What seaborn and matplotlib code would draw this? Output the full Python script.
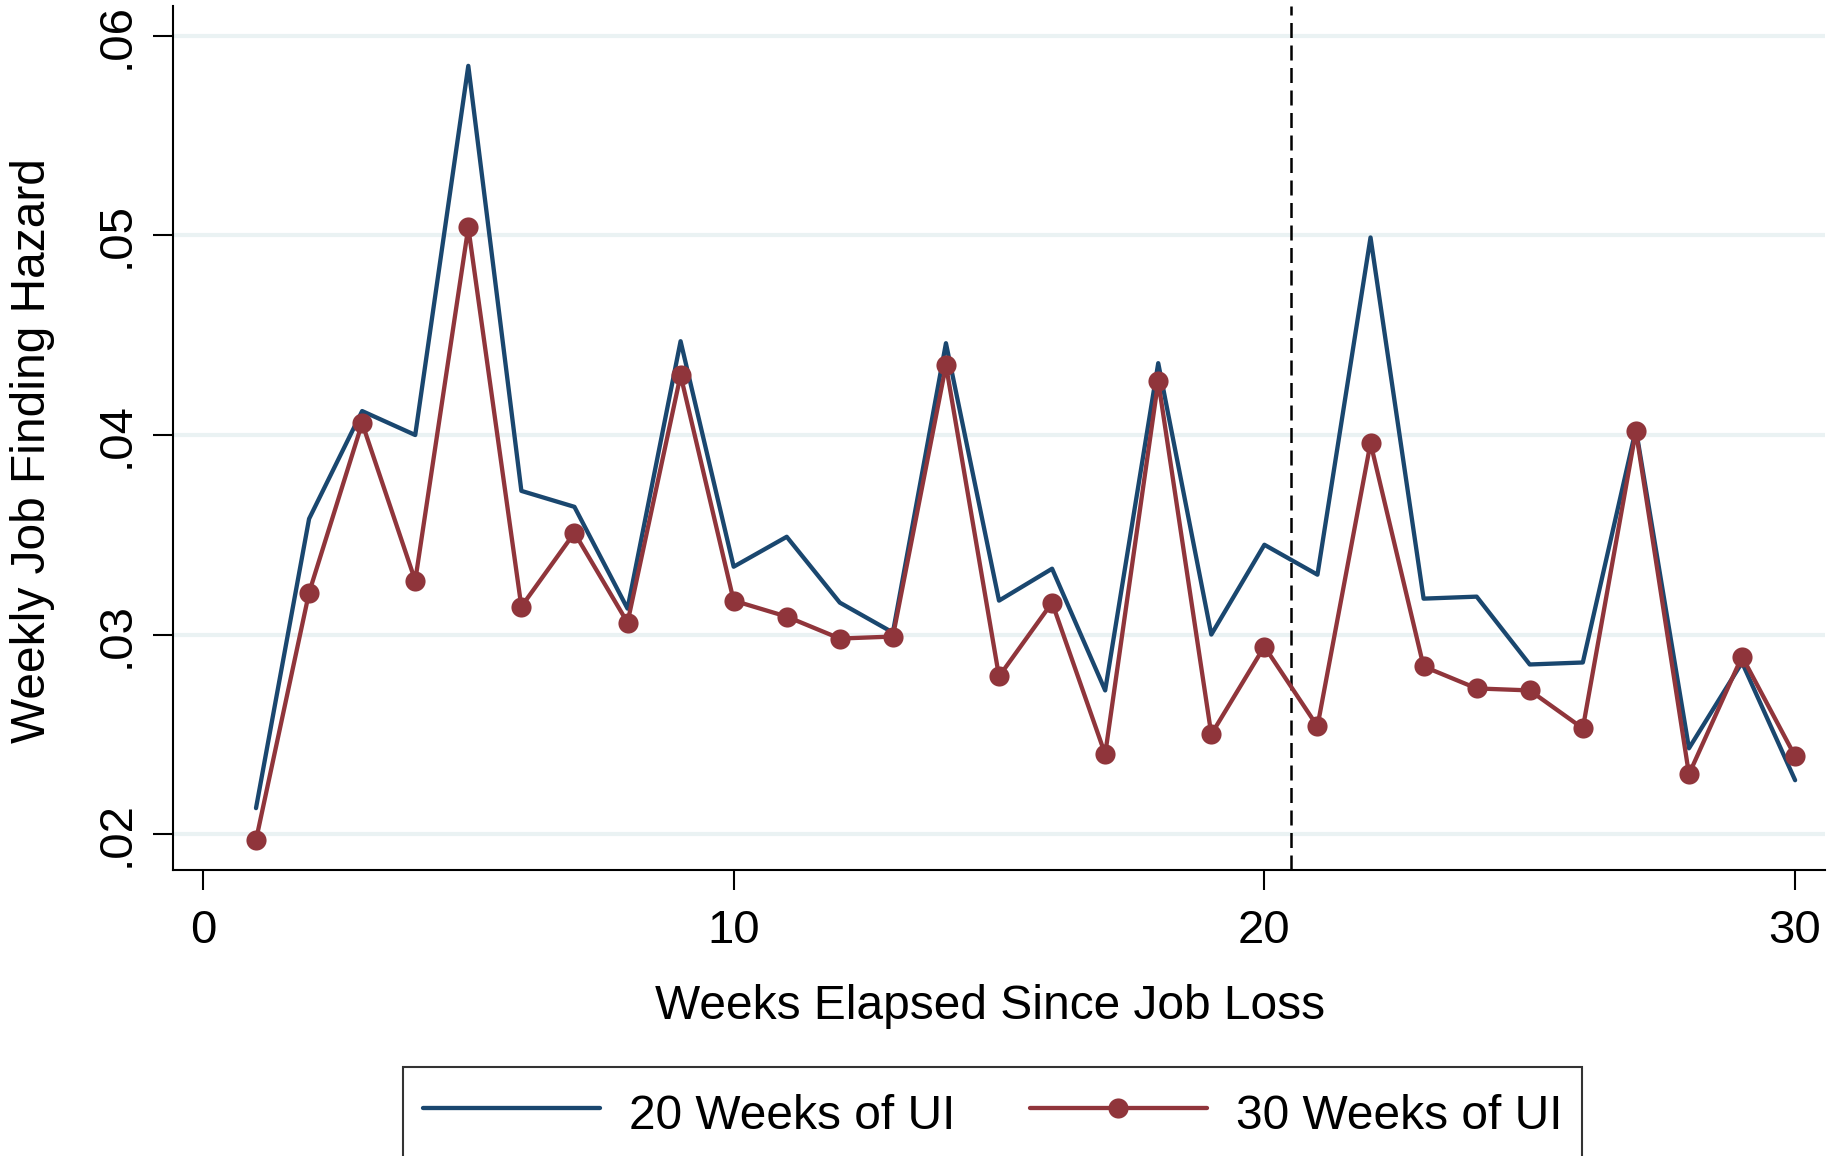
import matplotlib
matplotlib.use("Agg")
import matplotlib.pyplot as plt
import numpy as np
import pandas as pd
import seaborn as sns
from matplotlib.ticker import FuncFormatter

# data
weeks = list(range(1, 31))
ui20 = [0.0213, 0.0358, 0.0412, 0.0400, 0.0585, 0.0372, 0.0364, 0.0313, 0.0447, 0.0334,
        0.0349, 0.0316, 0.0301, 0.0446, 0.0317, 0.0333, 0.0272, 0.0436, 0.0300, 0.0345,
        0.0330, 0.0499, 0.0318, 0.0319, 0.0285, 0.0286, 0.0403, 0.0243, 0.0286, 0.0227]
ui30 = [0.0197, 0.0321, 0.0406, 0.0327, 0.0504, 0.0314, 0.0351, 0.0306, 0.0430, 0.0317,
        0.0309, 0.0298, 0.0299, 0.0435, 0.0279, 0.0316, 0.0240, 0.0427, 0.0250, 0.0294,
        0.0254, 0.0396, 0.0284, 0.0273, 0.0272, 0.0253, 0.0402, 0.0230, 0.0289, 0.0239]
cutoff = 20.5
xticks = [0, 10, 20, 30]
yticks = [0.02, 0.03, 0.04, 0.05, 0.06]

BLUE = "#1a476f"
RED = "#90353b"
GRID = "#eaf2f3"

sns.set_style("white")
plt.rcParams["font.family"] = ["Liberation Sans", "DejaVu Sans"]
plt.rcParams["text.color"] = "black"
plt.rcParams["axes.labelcolor"] = "black"
plt.rcParams["xtick.color"] = "black"
plt.rcParams["ytick.color"] = "black"

df = pd.DataFrame({"week": weeks, "ui20": ui20, "ui30": ui30})

fig = plt.figure(figsize=(18.34, 11.56), dpi=100)
ax = fig.add_axes([0.0943, 0.2474, 0.9007, 0.7474])

for y in yticks:
    ax.axhline(y, color=GRID, lw=3, zorder=0)

sns.lineplot(data=df, x="week", y="ui20", ax=ax, color=BLUE, lw=3.1,
             label="20 Weeks of UI", zorder=3)
sns.lineplot(data=df, x="week", y="ui30", ax=ax, color=RED, lw=3.1,
             marker="o", markersize=14.5, markeredgewidth=0,
             label="30 Weeks of UI", zorder=4)
ax.axvline(cutoff, color="black", lw=1.8, ls=(0, (6, 3)), zorder=2)

ax.set_xlim(-0.565, 30.56)
ax.set_ylim(0.0182, 0.0615)
ax.set_xticks(xticks)
ax.set_yticks(yticks)
ax.yaxis.set_major_formatter(FuncFormatter(lambda v, p: f"{v:.2f}".lstrip("0")))
ax.tick_params(axis="both", which="major", labelsize=34, length=14.4, width=1.5,
               color="black", labelcolor="black", direction="out", bottom=True, left=True)
ax.tick_params(axis="x", pad=14)
ax.tick_params(axis="y", pad=10)
for lab in ax.get_yticklabels():
    lab.set_rotation(90)
    lab.set_va("center")

for s in ["top", "right"]:
    ax.spines[s].set_visible(False)
for s in ["left", "bottom"]:
    ax.spines[s].set_color("black")
    ax.spines[s].set_linewidth(1.5)

ax.set_xlabel("Weeks Elapsed Since Job Loss", fontsize=34.5, color="black")
ax.set_ylabel("Weekly Job Finding Hazard", fontsize=34.5, color="black")
ax.xaxis.set_label_coords(0.4946, -0.132)
ax.yaxis.set_label_coords(-0.0715, 0.486)

handles, labels = ax.get_legend_handles_labels()
ax.get_legend().remove()
leg = fig.legend(handles, labels, loc="upper left", bbox_to_anchor=(403 / 1834, 1 - 1067 / 1156),
                 ncol=2, fontsize=34.5, frameon=True, fancybox=False, edgecolor="black",
                 handlelength=3.7, handleheight=1.3, handletextpad=0.6, columnspacing=1.55,
                 borderpad=0.42, borderaxespad=0, labelcolor="black")
leg.get_frame().set_linewidth(1.5)

fig.savefig("out.png", dpi=100, facecolor="white")
